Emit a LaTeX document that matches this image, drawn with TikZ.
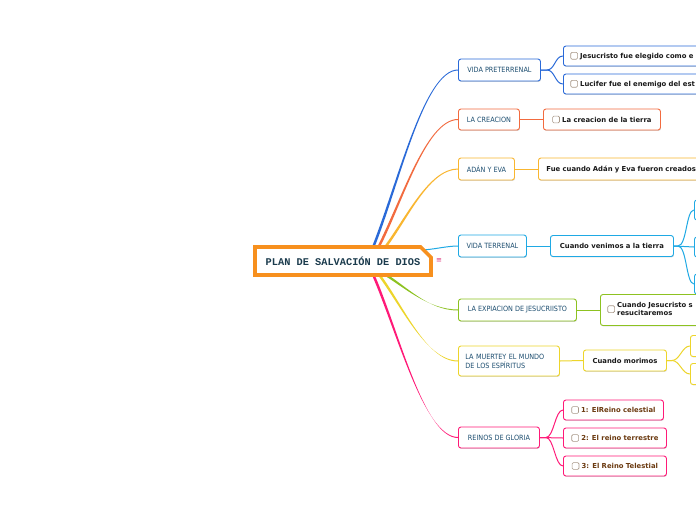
\documentclass[tikz,border=0pt]{standalone}
\usepackage{fontspec}
\setmainfont{DejaVu Sans}
\newfontfamily\condf{DejaVu Sans Condensed}
\newfontfamily\monof{Liberation Mono}
\usetikzlibrary{shapes.misc,shadows,calc,backgrounds}
\definecolor{cblue}{HTML}{2A6AD8}
\definecolor{cred}{HTML}{F26B3F}
\definecolor{corange}{HTML}{F9B630}
\definecolor{clblue}{HTML}{1FA9E4}
\definecolor{cgreen}{HTML}{8DC221}
\definecolor{cyellow}{HTML}{EDD52B}
\definecolor{cpink}{HTML}{FF1A78}
\definecolor{rootor}{HTML}{F7901E}
\definecolor{ltext}{HTML}{1D4E70}
\definecolor{roottext}{HTML}{1B3B4D}
\definecolor{brownt}{HTML}{6B3A10}
\definecolor{cbgray}{HTML}{A89888}
\newcommand{\cbx}{\tikz[baseline=0.8pt]\draw[draw=cbgray,fill=white,line width=0.6pt,rounded corners=1.2pt] (0pt,0pt) rectangle (6.8pt,6.8pt);}
\newcommand{\brch}[5]{%
 \fill[#1] let \p1=(#2), \p2=(#3) in
 ({\x1-#4},{\y1-#5}) .. controls ({\x1+0.3*(\x2-\x1)-#4},{\y1+0.35*(\y2-\y1)-#5}) and ({\x1+0.6*(\x2-\x1)},{\y2+0.5pt}) .. ({\x2},{\y2+0.5pt})
 -- ({\x2},{\y2-0.5pt}) .. controls ({\x1+0.6*(\x2-\x1)},{\y2-0.5pt}) and ({\x1+0.3*(\x2-\x1)+#4},{\y1+0.35*(\y2-\y1)+#5}) .. ({\x1+#4},{\y1+#5}) -- cycle;}
\tikzset{
 shad/.style={drop shadow={shadow xshift=0.5pt,shadow yshift=-0.9pt,fill=black,opacity=0.16}},
 l1/.style={draw=#1,fill=white,line width=0.9pt,rounded corners=2.5pt,anchor=west,inner sep=0pt,
   font=\condf\fontsize{7.2}{8.8}\selectfont,text=ltext,shad},
 l2/.style={draw=#1,fill=white,line width=0.9pt,rounded corners=2.5pt,anchor=west,inner sep=0pt,
   font=\bfseries\fontsize{6.85}{8}\selectfont,text=black!90,shad},
 wide/.style={text width=200pt,align=left,inner xsep=7pt,minimum height=20pt},
 blank/.style={minimum width=40pt,minimum height=20pt},
 cn/.style={draw=#1,line width=1pt},
 rootbox/.style={chamfered rectangle,chamfered rectangle corners=north east,chamfered rectangle xsep=6pt,
   chamfered rectangle ysep=6pt,draw=rootor,fill=white,line width=3.6pt,minimum width=176pt,minimum height=28pt,
   inner sep=0pt,font=\monof\bfseries\fontsize{10.3}{12}\selectfont,text=roottext}
}
\begin{document}
\begin{tikzpicture}[x=1pt,y=-1pt]
\useasboundingbox (0,0) rectangle (696,520);
% root
\node[rootbox] (root) at (343,261) {PLAN DE SALVACI\'ON DE DIOS};
\node[font=\fontsize{7}{8}\selectfont,text=cpink!85!black!90,inner sep=0pt] (menu) at (439,260.5) {≡};
% level 1
\node[l1=cblue,minimum width=82pt,minimum height=22pt] (vp) at (458,70) {VIDA PRETERRENAL};
\node[l1=cred,minimum width=61pt,minimum height=21pt] (cr) at (458,119.5) {LA CREACION};
\node[l1=corange,minimum width=56pt,minimum height=22pt] (ae) at (458,169) {AD\'AN Y EVA};
\node[l1=clblue,minimum width=68pt,minimum height=22pt] (vt) at (458,246) {VIDA TERRENAL};
\node[l1=cgreen,minimum width=118pt,minimum height=22pt] (ex) at (458,310) {LA EXPIACION DE JESUCRIISTO};
\node[l1=cyellow,minimum width=101pt,minimum height=30pt,align=left,text width=87pt] (mu) at (458,361) {LA MUERTEY EL MUNDO\\DE LOS ESP\'IRITUS};
\node[l1=cpink,minimum width=81pt,minimum height=21pt] (rg) at (458,437.5) {REINOS DE GLORIA};
% level 2
\node[l2=cblue,wide] (j1) at (563,56) {\cbx\ Jesucristo fue elegido como e};
\node[l2=cblue,wide] (j2) at (563,84) {\cbx\ Lucifer fue el enemigo del est};
\node[l2=cred,minimum width=117pt,minimum height=21pt] (cr1) at (543,119.5) {\cbx\ La creacion de la tierra};
\node[l2=corange,wide,minimum height=22pt,inner xsep=8pt] (ae1) at (538,169) {Fue cuando Ad\'an y Eva fueron creados};
\node[l2=clblue,minimum width=123pt,minimum height=21pt] (vt1) at (550,246) {Cuando venimos a la tierra};
\node[l2=clblue,blank] (vt2) at (694,210) {};
\node[l2=clblue,blank] (vt3) at (694,247) {};
\node[l2=clblue,blank] (vt4) at (694,284) {};
\node[l2=cgreen,wide,minimum height=31pt] (ex1) at (600,310) {\cbx\ \begin{tabular}{@{}l@{}}Cuando Jesucristo s\\[-0.6pt]resucitaremos\end{tabular}};
\node[l2=cyellow,minimum width=83pt,minimum height=21pt] (mo) at (583,360.5) {Cuando morimos};
\node[l2=cyellow,blank,minimum height=21pt] (mo2) at (690,346) {};
\node[l2=cyellow,blank,minimum height=21pt] (mo3) at (690,374) {};
\node[l2=cpink,minimum width=100pt,minimum height=20pt,text=brownt] (r1) at (563,410) {\cbx\ 1: ElReino celestial};
\node[l2=cpink,minimum width=103pt,minimum height=20pt,text=brownt] (r2) at (563,438) {\cbx\ 2: El reino terrestre};
\node[l2=cpink,minimum width=103pt,minimum height=20pt,text=brownt] (r3) at (563,466) {\cbx\ 3: El Reino Telestial};
% start points
\coordinate (s1) at (372,250);
\coordinate (s2) at (377,250);
\coordinate (s3) at (383,250);
\coordinate (s4) at (420,250);
\coordinate (s5) at (381,272);
\coordinate (s6) at (377,272);
\coordinate (s7) at (372,272);
\begin{scope}[on background layer]
\fill[white] (0,0) rectangle (696,520);
\brch{cblue}{s1}{vp.west}{1.15pt}{-0.49pt}
\brch{cred}{s2}{cr.west}{1.09pt}{-0.61pt}
\brch{corange}{s3}{ae.west}{0.95pt}{-0.81pt}
\draw[cn=clblue] (s4) .. controls +(12,0) and +(-12,0) .. (vt.west);
\brch{cgreen}{s5}{ex.west}{0.55pt}{1.12pt}
\brch{cyellow}{s6}{mu.west}{0.96pt}{0.80pt}
\brch{cpink}{s7}{rg.west}{1.14pt}{0.52pt}
% level 2 connectors
\draw[cn=cblue] (vp.east) -- ++(6,0) .. controls +(8,0) and +(-8,0) .. (j1.west);
\draw[cn=cblue] (vp.east) -- ++(6,0) .. controls +(8,0) and +(-8,0) .. (j2.west);
\draw[cn=cred] (cr.east) -- (cr1.west);
\draw[cn=corange] (ae.east) -- (ae1.west);
\draw[cn=clblue] (vt.east) -- (vt1.west);
\draw[cn=clblue] (vt1.east) -- ++(4,0) .. controls +(9,0) and +(-8,0) .. (vt2.west);
\draw[cn=clblue] (vt1.east) -- (vt3.west);
\draw[cn=clblue] (vt1.east) -- ++(4,0) .. controls +(9,0) and +(-8,0) .. (vt4.west);
\draw[cn=cgreen] (ex.east) -- (ex1.west);
\draw[cn=cyellow] (mu.east) -- (mo.west);
\draw[cn=cyellow] (mo.east) -- ++(5,0) .. controls +(8,0) and +(-8,0) .. (mo2.west);
\draw[cn=cyellow] (mo.east) -- ++(5,0) .. controls +(8,0) and +(-8,0) .. (mo3.west);
\draw[cn=cpink] (rg.east) -- ++(6,0) .. controls +(8,0) and +(-8,0) .. (r1.west);
\draw[cn=cpink] (rg.east) -- (r2.west);
\draw[cn=cpink] (rg.east) -- ++(6,0) .. controls +(8,0) and +(-8,0) .. (r3.west);
\end{scope}
\end{tikzpicture}
\end{document}
